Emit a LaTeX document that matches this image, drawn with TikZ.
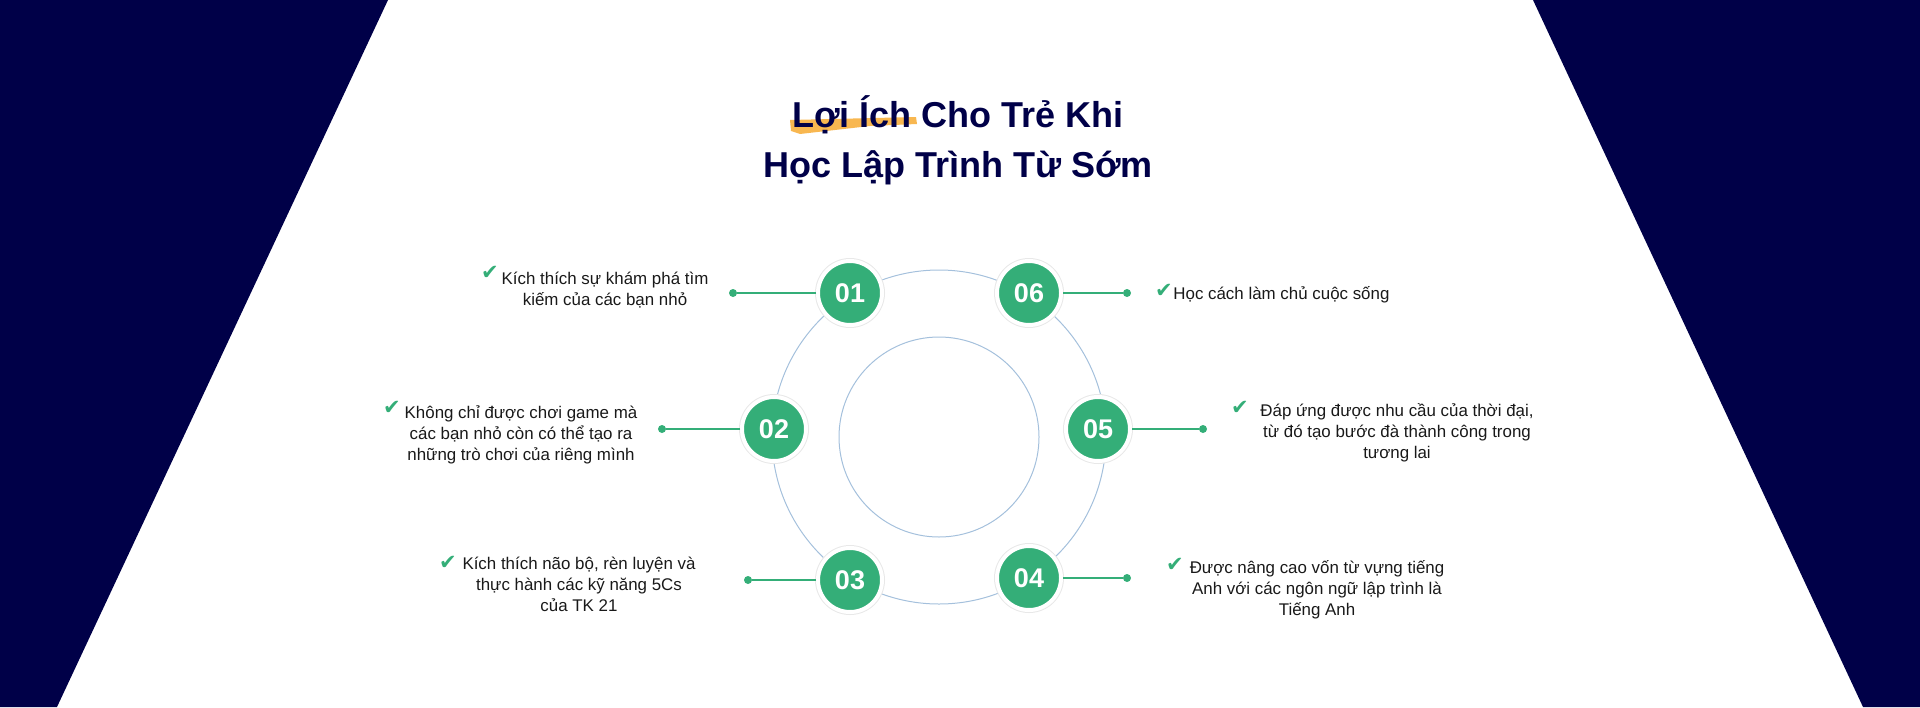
\documentclass[tikz,border=0pt]{standalone}
\usepackage{fontspec}
\setmainfont{Liberation Sans}
\newfontfamily\symfont{DejaVu Sans}
\definecolor{navy}{RGB}{0,0,72}
\definecolor{numgreen}{RGB}{52,174,120}
\definecolor{ringblue}{RGB}{164,192,220}
\definecolor{brush}{RGB}{248,183,80}
\definecolor{ink}{RGB}{25,25,25}
\tikzstyle{num} = [circle, fill=numgreen, draw=white, line width=2pt, minimum size=32pt, inner sep=0pt, text=white, font=\bfseries\fontsize{13.5}{14}\selectfont, preaction={draw=black!9, line width=3pt}]
\tikzstyle{dot} = [circle, fill=numgreen, inner sep=0pt, minimum size=4pt]
\tikzstyle{link} = [draw=numgreen, line width=0.7pt]
\tikzstyle{point} = [align=center, text=ink, font=\fontsize{8.45}{10.5}\selectfont, inner sep=0pt]
\tikzstyle{tick} = [text=numgreen, font=\symfont\fontsize{10.5}{12}\selectfont, inner sep=0pt]

\begin{document}
\begin{tikzpicture}[x=0.5pt, y=-0.5pt]

\useasboundingbox (0,0) rectangle (1920,707);
\fill[navy] (0,0) -- (388,0) -- (57,707) -- (0,707) -- cycle;
\fill[navy] (1533,0) -- (1920,0) -- (1920,707) -- (1863,707) -- cycle;

\fill[brush] (790,120) -- (916,117) -- (917,124) -- (870,126) -- (800,134) -- (791,131) -- cycle;
\node[anchor=base, align=center, text=navy, font=\bfseries\fontsize{18}{25}\selectfont, inner sep=0pt] (title) at (958,177) {Lợi Ích Cho Trẻ Khi \\ Học Lập Trình Từ Sớm};

\draw[ringblue, line width=0.5pt] (939,437) circle [radius=83.5pt];
\draw[ringblue, line width=0.5pt] (939,437) circle [radius=50pt];

\node[num] (n1) at (850,293) {01};
\node[num] (n2) at (774,429) {02};
\node[num] (n3) at (850,580) {03};
\node[num] (n4) at (1029,578) {04};
\node[num] (n5) at (1098,429) {05};
\node[num] (n6) at (1029,293) {06};

\node[dot] (d1) at (733,293) {};
\node[dot] (d2) at (662,429) {};
\node[dot] (d3) at (748,580) {};
\node[dot] (d4) at (1127,578) {};
\node[dot] (d5) at (1203,429) {};
\node[dot] (d6) at (1127,293) {};

\draw[link] (n1) -- (d1);
\draw[link] (n2) -- (d2);
\draw[link] (n3) -- (d3);
\draw[link] (n4) -- (d4);
\draw[link] (n5) -- (d5);
\draw[link] (n6) -- (d6);

\node[point, anchor=base] (t1) at (605,305) {Kích thích sự khám phá tìm \\ kiếm của các bạn nhỏ};
\node[point, anchor=base] (t2) at (521,460) {Không chỉ được chơi game mà \\ các bạn nhỏ còn có thể tạo ra \\ những trò chơi của riêng mình};
\node[point, anchor=base] (t3) at (579,611) {Kích thích não bộ, rèn luyện và \\ thực hành các kỹ năng 5Cs \\ của TK 21};
\node[point, anchor=base] (t4) at (1317,615) {Được nâng cao vốn từ vựng tiếng \\ Anh với các ngôn ngữ lập trình là \\ Tiếng Anh};
\node[point, anchor=base] (t5) at (1397,458) {Đáp ứng được nhu cầu của thời đại, \\ từ đó tạo bước đà thành công trong \\ tương lai};
\node[point, anchor=base west] (t6) at (1173,299) {Học cách làm chủ cuộc sống};

\node[tick] (c1) at (490,273) {✔};
\node[tick] (c2) at (392,408) {✔};
\node[tick] (c3) at (448,563) {✔};
\node[tick] (c4) at (1175,565) {✔};
\node[tick] (c5) at (1240,408) {✔};
\node[tick] (c6) at (1164,291) {✔};

\end{tikzpicture}
\end{document}
